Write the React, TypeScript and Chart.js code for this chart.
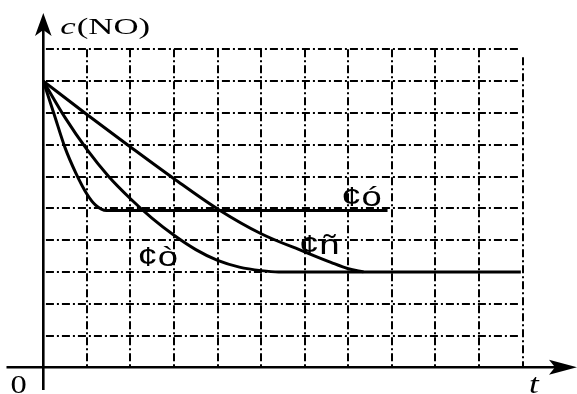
import React, { useEffect, useRef } from "react";
import { Chart, registerables } from "chart.js";

Chart.register(...registerables);

// grid positions (data units)
const xGrid = [1, 2, 3, 4, 5, 6, 7, 8, 9, 10, 11];
const yGrid = [1, 2, 3, 4, 5, 6, 7, 8, 9, 10];

// curve ó (fastest)
const curve1X = [0, 0.25, 0.5, 0.75, 1.0, 1.2, 1.45, 7.9];
const curve1Y = [9, 7.95, 6.9, 6.1, 5.45, 5.1, 4.93, 4.93];

// curve ñ
const curve2X = [0, 1, 2, 3, 4, 5, 6, 6.6, 7.0, 7.35];
const curve2Y = [9, 7.95, 6.93, 5.93, 4.98, 4.2, 3.63, 3.3, 3.1, 3.0];

// curve ò
const curve3X = [0, 0.5, 1, 1.5, 2, 2.5, 3, 3.5, 4, 4.5, 5, 5.4, 10.96];
const curve3Y = [9, 7.85, 6.85, 6.0, 5.3, 4.68, 4.15, 3.7, 3.36, 3.15, 3.04, 3.0, 3.0];

const labelTexts = ["¢ó", "¢ñ", "¢ò"];
const labelX = [6.84, 5.87, 2.16];
const labelY = [5.07, 3.55, 3.19];

const toPts = (xs: number[], ys: number[]) => xs.map((x, i) => ({ x, y: ys[i] }));

const drawStretched = (
  ctx: CanvasRenderingContext2D,
  text: string,
  x: number,
  y: number,
  font: string,
  sx: number
) => {
  ctx.save();
  ctx.font = font;
  ctx.translate(x, y);
  ctx.scale(sx, 1);
  ctx.fillText(text, 0, 0);
  const w = ctx.measureText(text).width * sx;
  ctx.restore();
  return w;
};

const diagramPlugin = {
  id: "diagram",
  beforeDatasetsDraw(chart: any) {
    const ctx: CanvasRenderingContext2D = chart.ctx;
    const xs = chart.scales.x;
    const ys = chart.scales.y;
    ctx.save();
    ctx.strokeStyle = "#000";
    ctx.lineWidth = 2;
    ctx.setLineDash([8, 3, 2, 3]);
    // horizontal grid
    yGrid.forEach((v) => {
      const py = Math.round(ys.getPixelForValue(v));
      ctx.beginPath();
      ctx.moveTo(xs.getPixelForValue(0.06), py);
      ctx.lineTo(xs.getPixelForValue(10.92), py);
      ctx.stroke();
    });
    // vertical grid
    xGrid.forEach((v, i) => {
      const px = Math.round(xs.getPixelForValue(v));
      ctx.beginPath();
      ctx.moveTo(px, ys.getPixelForValue(i === xGrid.length - 1 ? 9.75 : 10));
      ctx.lineTo(px, ys.getPixelForValue(0));
      ctx.stroke();
    });
    ctx.setLineDash([]);

    // axes
    const ox = xs.getPixelForValue(0);
    const oy = ys.getPixelForValue(0);
    ctx.lineWidth = 2.6;
    ctx.beginPath();
    ctx.moveTo(6.5, oy);
    ctx.lineTo(560, oy);
    ctx.stroke();
    ctx.beginPath();
    ctx.moveTo(ox, 390);
    ctx.lineTo(ox, 28);
    ctx.stroke();
    ctx.fillStyle = "#000";
    // x arrow
    ctx.beginPath();
    ctx.moveTo(577, oy);
    ctx.lineTo(549, oy - 7.5);
    ctx.lineTo(555, oy);
    ctx.lineTo(549, oy + 7.5);
    ctx.closePath();
    ctx.fill();
    // y arrow
    ctx.beginPath();
    ctx.moveTo(ox, 13);
    ctx.lineTo(ox - 8.3, 36);
    ctx.lineTo(ox, 30);
    ctx.lineTo(ox + 8.3, 36);
    ctx.closePath();
    ctx.fill();
    ctx.restore();
  },
  afterDatasetsDraw(chart: any) {
    const ctx: CanvasRenderingContext2D = chart.ctx;
    const xs = chart.scales.x;
    const ys = chart.scales.y;
    const ox = xs.getPixelForValue(0);
    ctx.save();
    ctx.fillStyle = "#000";
    ctx.textBaseline = "alphabetic";
    ctx.textAlign = "left";
    // curve labels
    labelTexts.forEach((t, i) => {
      drawStretched(
        ctx,
        t,
        xs.getPixelForValue(labelX[i]),
        ys.getPixelForValue(labelY[i]),
        "28px 'Liberation Sans', Arial, sans-serif",
        1.3
      );
    });
    // y axis title c(NO)
    let x = ox + 17;
    const by = 34;
    x += drawStretched(ctx, "c", x, by, "italic 24px 'Liberation Serif', 'Times New Roman', serif", 1.45);
    x += 1;
    drawStretched(ctx, "(NO)", x, by, "24px 'Liberation Serif', 'Times New Roman', serif", 1.45);
    // origin 0
    drawStretched(ctx, "0", 10.5, 392.5, "26px 'Liberation Serif', 'Times New Roman', serif", 1.25);
    // t
    drawStretched(ctx, "t", 529, 393, "italic 27px 'Liberation Serif', 'Times New Roman', serif", 1.3);
    ctx.restore();
  },
};

export default function App() {
  const ref = useRef<HTMLCanvasElement | null>(null);
  useEffect(() => {
    if (!ref.current) return;
    const lineStyle = {
      borderColor: "#000",
      borderWidth: 3,
      pointRadius: 0,
      fill: false,
      cubicInterpolationMode: "monotone" as const,
      clip: false as any,
    };
    const chart = new Chart(ref.current, {
      type: "line",
      data: {
        datasets: [
          { label: "¢ó", data: toPts(curve1X, curve1Y), ...lineStyle },
          { label: "¢ñ", data: toPts(curve2X, curve2Y), ...lineStyle },
          { label: "¢ò", data: toPts(curve3X, curve3Y), ...lineStyle },
        ],
      },
      options: {
        responsive: false,
        animation: false,
        devicePixelRatio: 1,
        layout: { padding: { left: 43.3, right: 54.4, top: 49.3, bottom: 26.7 } },
        plugins: { legend: { display: false }, tooltip: { enabled: false } },
        events: [],
        scales: {
          x: { type: "linear", min: 0, max: 11, display: false },
          y: { type: "linear", min: 0, max: 10, display: false },
        },
      },
      plugins: [diagramPlugin],
    });
    return () => chart.destroy();
  }, []);
  return (
    <div style={{ position: "absolute", left: 0, top: 0, width: 577, height: 394, background: "#fff" }}>
      <canvas ref={ref} width={577} height={394} style={{ width: 577, height: 394, display: "block" }} />
    </div>
  );
}
